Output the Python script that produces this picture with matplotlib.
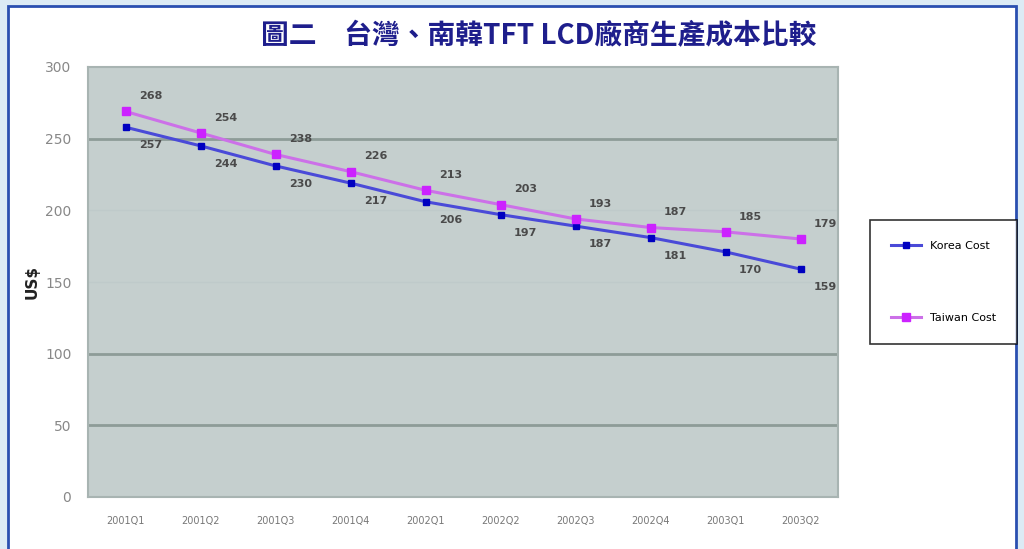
import matplotlib
matplotlib.use('Agg')
import matplotlib.pyplot as plt
import numpy as np
from matplotlib.patches import Rectangle

plt.rcParams['font.family'] = ['Noto Sans CJK TC', 'DejaVu Sans']

# 資料
quarters = ['2001Q1', '2001Q2', '2001Q3', '2001Q4', '2002Q1',
            '2002Q2', '2002Q3', '2002Q4', '2003Q1', '2003Q2']
korea_cost = [258, 245, 231, 219, 206, 197, 189, 181, 171, 159]
taiwan_cost = [269, 254, 239, 227, 214, 204, 194, 188, 185, 180]
korea_labels = ['257', '244', '230', '217', '206', '197', '187', '181', '170', '159']
taiwan_labels = ['268', '254', '238', '226', '213', '203', '193', '187', '185', '179']
yticks = [0, 50, 100, 150, 200, 250, 300]

title = '圖二　台灣、南韓TFT LCD廠商生產成本比較'

fig = plt.figure(figsize=(10.24, 5.49), dpi=100)
fig.patch.set_facecolor('white')

# 外框
fig.add_artist(Rectangle((0, 0), 1, 1, transform=fig.transFigure,
                         facecolor='#DCEBF5', edgecolor='none', zorder=-3))
fig.add_artist(Rectangle((8/1024, -0.01), 1008/1024, 1 - 6/549 + 0.01, transform=fig.transFigure,
                         facecolor='white', edgecolor='#2A4FB0', lw=2.0, zorder=-2))

ax = fig.add_axes([88/1024, 52/549, 750/1024, 430/549])
ax.set_facecolor('#C5CFCE')

x = np.arange(len(quarters))
ax.plot(x, korea_cost, '-', color='#4A4AD8', lw=2.2, marker='s', ms=5,
        mfc='#0000C0', mec='#0000C0', label='Korea Cost', zorder=3)
ax.plot(x, taiwan_cost, '-', color='#CC70E8', lw=2.2, marker='s', ms=6,
        mfc='#CC22FF', mec='#CC22FF', label='Taiwan Cost', zorder=3)

for i in range(len(quarters)):
    ax.annotate(taiwan_labels[i], (x[i], taiwan_cost[i]), xytext=(18, 11),
                textcoords='offset points', ha='center', va='center',
                fontsize=8, color='#4A4A4A', fontweight='bold', family='DejaVu Sans')
    ax.annotate(korea_labels[i], (x[i], korea_cost[i]), xytext=(18, -13),
                textcoords='offset points', ha='center', va='center',
                fontsize=8, color='#4A4A4A', fontweight='bold', family='DejaVu Sans')

ax.set_xlim(-0.5, len(quarters) - 0.5)
ax.set_ylim(0, 300)
ax.set_xticks(x)
ax.set_xticklabels(quarters, fontsize=7, color='#777777', family='DejaVu Sans')
ax.set_yticks(yticks)
ax.set_yticklabels([str(v) for v in yticks], fontsize=10, color='#888888', family='DejaVu Sans')
ax.tick_params(length=0, pad=12)
ax.tick_params(axis='x', pad=14)

ax.yaxis.grid(True, color='#8E9C98', lw=2)
ax.set_axisbelow(True)
for v, gl in zip(yticks, ax.get_ygridlines()):
    if v in (150, 200):
        gl.set_color('#BFCACA')
        gl.set_linewidth(1)
    if v in (0, 300):
        gl.set_visible(False)

for s in ax.spines.values():
    s.set_color('#A8B4B2')
    s.set_linewidth(1.5)

ax.set_ylabel('US$', fontsize=11, fontweight='bold', color='#222222', family='DejaVu Sans', labelpad=4)

fig.text(539/1024, 1 - 36/549, title, ha='center', va='center', fontsize=20,
         fontweight='bold', color='#1E1E8C')

leg = fig.legend(loc='upper left', bbox_to_anchor=(870/1024, 1 - 220/549),
                 labelspacing=5.6, borderpad=1.9, handlelength=2.7, borderaxespad=0,
                 frameon=True, fancybox=False, edgecolor='black',
                 prop={'family': 'DejaVu Sans', 'size': 8})
leg.get_frame().set_linewidth(1.2)

fig.savefig('out.png', dpi=100)
